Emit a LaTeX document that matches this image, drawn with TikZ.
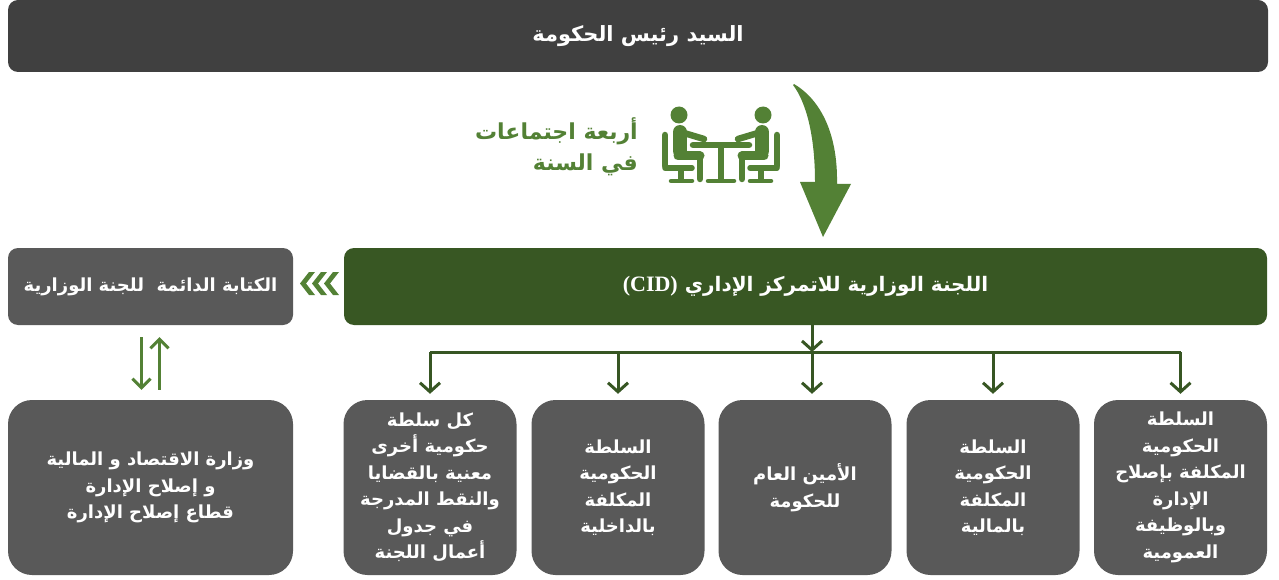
\documentclass[tikz,border=0pt]{standalone}
\usepackage{fontspec}
\TeXXeTstate=1
\newfontfamily\arabicfont[Script=Arabic]{DejaVu Sans}
\newfontfamily\latinserif{Liberation Serif}
\usetikzlibrary{arrows.meta}
\definecolor{topgray}{HTML}{404040}
\definecolor{boxgray}{HTML}{595959}
\definecolor{cidgreen}{HTML}{385723}
\definecolor{linkgreen}{HTML}{375623}
\definecolor{lightgreen}{HTML}{538135}
\newcommand{\ar}[1]{\beginR #1\endR}
\begin{document}
\begin{tikzpicture}[x=1pt,y=-1pt,
  txt/.style={text=white, align=center, inner sep=0pt,
    font=\arabicfont\bfseries\fontsize{18}{26.5}\selectfont},
  wide/.style={txt, rounded corners=10pt},
  lowbox/.style={txt, fill=boxgray, rounded corners=24pt,
    minimum width=173pt, minimum height=175pt},
  linkline/.style={draw=linkgreen, line width=3pt},
  linkarrow/.style={linkline, -{Straight Barb[length=9pt,width=20pt]}},
  pairarrow/.style={draw=lightgreen, line width=3pt, -{Straight Barb[length=9pt,width=18pt]}},
  iconline/.style={draw=lightgreen, line cap=round},
  seated/.pic={
    \fill[lightgreen] (-42,115) circle (8.5);
    \draw[iconline, line width=14pt] (-41,132) -- (-41,151);
    \draw[iconline, line width=6.5pt] (-37,133) -- (-17,139);
    \draw[iconline, line width=9pt] (-43,156) -- (-21,156);
    \draw[iconline, line width=6.5pt] (-21,156) -- (-21,179);
    \draw[iconline, line width=6.5pt] (-56,135) -- (-56,166);
    \draw[iconline, line width=5.5pt] (-56,168) -- (-29,168);
    \draw[iconline, line width=5.5pt, line cap=butt] (-40,168) -- (-40,181);
    \draw[iconline, line width=4.5pt] (-50,181) -- (-29,181);
  }]
\useasboundingbox (0,0) rectangle (1279,580);

% top bar
\node[wide, fill=topgray, minimum width=1260pt, minimum height=72pt,
  font=\arabicfont\bfseries\fontsize{21}{24}\selectfont] (pm) at (638,36) {\ar{السيد رئيس الحكومة}};

% meeting label and icon
\node[anchor=east, align=right, inner sep=0pt, text=lightgreen,
  font=\arabicfont\bfseries\fontsize{22}{31}\selectfont] (meet) at (638,147)
  {\ar{أربعة اجتماعات}\\\ar{في السنة}};
\pic at (721,0) {seated};
\pic[xscale=-1] at (721,0) {seated};
\draw[iconline, line width=6.5pt] (693,145) -- (749,145);
\draw[iconline, line width=6.5pt, line cap=butt] (721,145) -- (721,180);
\draw[iconline, line width=4.5pt] (708,181) -- (734,181);

% curved arrow
\fill[lightgreen] (793,85) .. controls (806,102) and (815,135) .. (815,182)
  -- (800,182) -- (823,237) -- (851,184) -- (837,184)
  .. controls (838,130) and (818,98) .. (794,84) -- cycle;

% committee row
\node[wide, fill=cidgreen, minimum width=923pt, minimum height=77pt,
  font=\arabicfont\bfseries\fontsize{20}{24}\selectfont] (cid) at (805.5,286.5)
  {{\latinserif\fontsize{22}{24}\selectfont (CID)}\ \ar{اللجنة الوزارية للاتمركز الإداري}};
\node[wide, fill=boxgray, minimum width=285pt, minimum height=77pt,
  font=\arabicfont\bfseries\fontsize{18}{24}\selectfont] (sec) at (150.5,286.5)
  {\ar{الكتابة الدائمة\ \ للجنة الوزارية}};

% chevrons
\foreach \cx in {300,312,324}
  \fill[lightgreen] (\cx+9,272) -- (\cx+15,272) -- (\cx+6,283.5) -- (\cx+15,295)
    -- (\cx+9,295) -- (\cx,283.5) -- cycle;

% bottom boxes
\node[lowbox, minimum width=285pt] (min) at (150.5,487.5)
  {\ar{وزارة الاقتصاد و المالية}\\\ar{و إصلاح الإدارة}\\\ar{قطاع إصلاح الإدارة}};
\node[lowbox] (b1) at (430,487.5)
  {\ar{كل سلطة}\\\ar{حكومية أخرى}\\\ar{معنية بالقضايا}\\\ar{والنقط المدرجة}\\\ar{في جدول}\\\ar{أعمال اللجنة}};
\node[lowbox] (b2) at (618,487.5)
  {\ar{السلطة}\\\ar{الحكومية}\\\ar{المكلفة}\\\ar{بالداخلية}};
\node[lowbox] (b3) at (805,487.5)
  {\ar{الأمين العام}\\\ar{للحكومة}};
\node[lowbox] (b4) at (993,487.5)
  {\ar{السلطة}\\\ar{الحكومية}\\\ar{المكلفة}\\\ar{بالمالية}};
\node[lowbox] (b5) at (1180.5,487.5)
  {\ar{السلطة}\\\ar{الحكومية}\\\ar{المكلفة بإصلاح}\\\ar{الإدارة}\\\ar{وبالوظيفة}\\\ar{العمومية}};

% tree connectors
\coordinate (hub) at (812,352);
\draw[linkline] (b1.north |- hub) -- (b5.north |- hub);
\draw[linkarrow] (hub |- cid.south) -- (hub);
\draw[linkarrow, shorten >=6pt] (hub) -- (hub |- b3.north);
\foreach \b in {b1,b2,b4,b5}
  \draw[linkarrow, shorten >=6pt] (\b.north |- hub) -- (\b.north);

% secretariat <-> ministry
\draw[pairarrow] ([xshift=-9pt,yshift=-12pt]sec.south) -- ([xshift=-9pt,yshift=10pt]min.north);
\draw[pairarrow] ([xshift=9pt,yshift=10pt]min.north) -- ([xshift=9pt,yshift=-12pt]sec.south);
\end{tikzpicture}
\end{document}
